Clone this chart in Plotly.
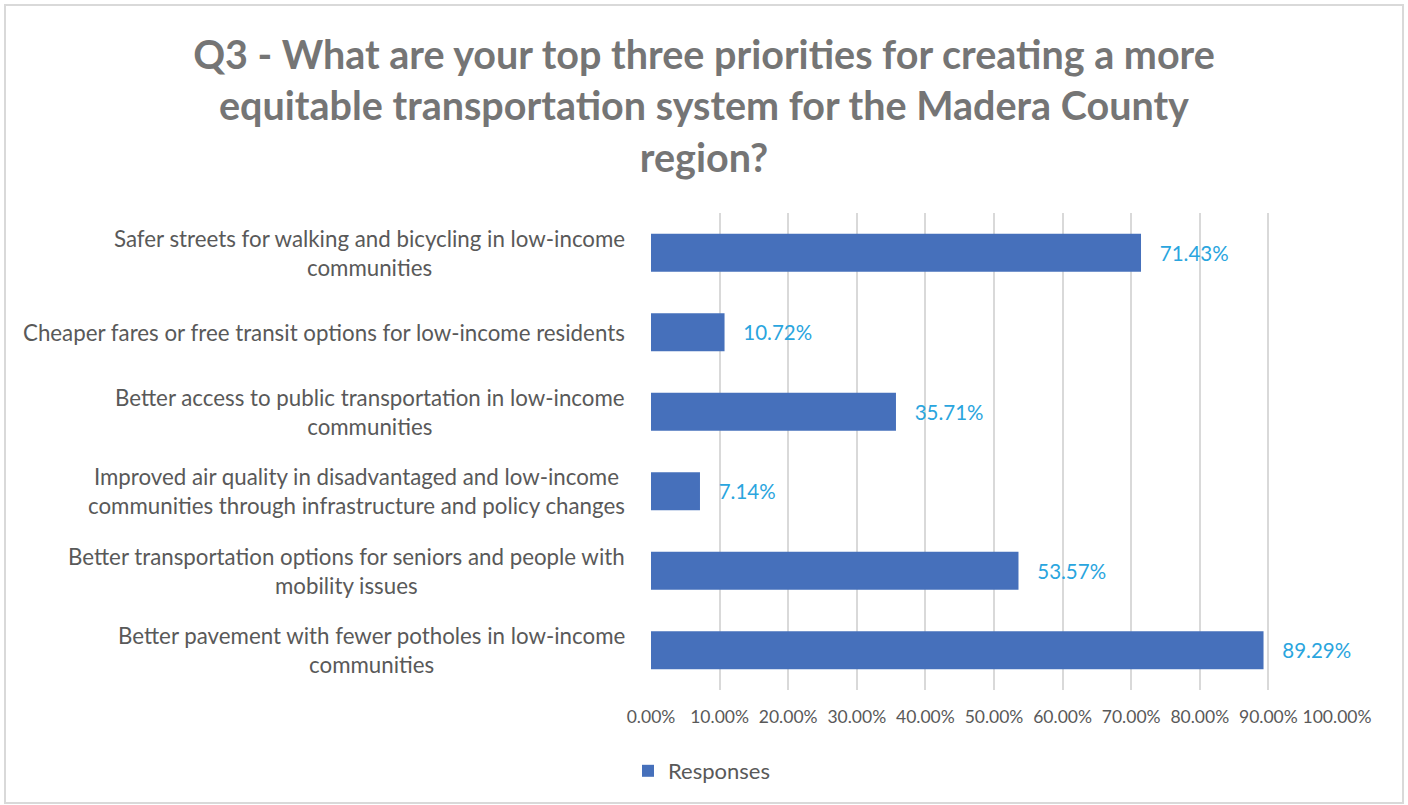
import plotly.graph_objects as go

categories = [
    "Safer streets for walking and bicycling in low-income<br>communities",
    "Cheaper fares or free transit options for low-income residents",
    "Better access to public transportation in low-income<br>communities",
    "Improved air quality in disadvantaged and low-income<br>communities through infrastructure and policy changes",
    "Better transportation options for seniors and people with<br>mobility issues",
    "Better pavement with fewer potholes in low-income<br>communities",
]
values = [71.43, 10.72, 35.71, 7.14, 53.57, 89.29]
tick_vals = [0, 10, 20, 30, 40, 50, 60, 70, 80, 90, 100]
tick_text = ["0.00%", "10.00%", "20.00%", "30.00%", "40.00%", "50.00%",
             "60.00%", "70.00%", "80.00%", "90.00%", "100.00%"]
labels = ["   %.2f%%" % v for v in values]

W, H = 1408, 805
L, R, T, B = 651, 71, 213, 115
pw, ph = W - L - R, H - T - B

def px(x):
    return (x - L) / pw

def py(y):
    return (H - B - y) / ph

fig = go.Figure()
fig.add_trace(go.Bar(
    y=categories, x=values, orientation="h", name="Responses",
    marker=dict(color="#4670BB", line=dict(width=0)),
    width=0.48,
    text=labels, textposition="outside", cliponaxis=False,
    textfont=dict(color="#2AA5DE", size=20.5, family="Lato"),
    showlegend=True,
))

# category labels, centred on each wrapped line like the original
for c in categories:
    fig.add_annotation(
        xref="paper", x=px(627), xanchor="right",
        yref="y", y=c, yanchor="middle",
        text=c, align="center", showarrow=False,
        font=dict(size=22.3, color="#595959", family="Lato"),
    )

fig.update_layout(
    width=W, height=H,
    margin=dict(l=L, r=R, t=T, b=B, autoexpand=False),
    paper_bgcolor="white", plot_bgcolor="white",
    font=dict(family="Lato", color="#595959"),
    title=dict(
        text="<b>Q3 - What are your top three priorities for creating a more<br>equitable transportation system for the Madera County<br>region?</b>",
        x=0.5, xanchor="center", xref="container",
        y=1 - 69 / H, yanchor="middle", yref="container",
        font=dict(size=39.5, color="#757575", family="Lato"),
    ),
    xaxis=dict(
        range=[0, 100], tickvals=tick_vals, ticktext=tick_text,
        showgrid=True, gridcolor="#D9D9D9", gridwidth=2,
        zeroline=False, showline=False, ticks="", automargin=False,
        tickangle=0,
        tickfont=dict(size=17.5, color="#595959"), ticklabelstandoff=14,
    ),
    yaxis=dict(
        autorange="reversed", showgrid=False, ticks="", automargin=False,
        showticklabels=False,
    ),
    legend=dict(
        orientation="h", x=px(628), xanchor="left", y=py(771), yanchor="middle",
        font=dict(size=22, color="#595959"), itemwidth=30,
    ),
    bargap=0.5,
    shapes=[dict(
        type="rect", xref="paper", yref="paper",
        x0=px(5), x1=px(1403), y0=py(803), y1=py(5),
        line=dict(color="#D9D9D9", width=2), fillcolor="rgba(0,0,0,0)",
        layer="below",
    )],
)

fig.write_html("out.html", config={"displayModeBar": False},
               post_script="document.body.style.margin='0';")
